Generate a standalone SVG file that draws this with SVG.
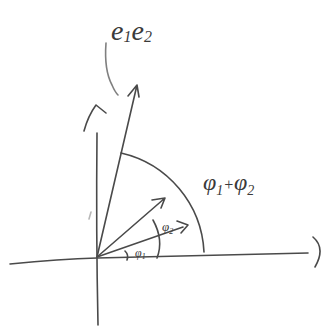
<svg xmlns="http://www.w3.org/2000/svg" width="326" height="329" viewBox="0 0 326 329">
<style>
.s{fill:none;stroke:#4a4a4a;stroke-width:1.6;stroke-linecap:round;stroke-linejoin:round}
.t{font-family:"Liberation Serif",serif;font-style:italic;fill:#3a3a3a}
</style>
<rect width="326" height="329" fill="#fff"/>
<g id="axes">
<path class="s" d="M10,264 Q60,259 97,258 Q200,256 308,253"/>
<path class="s" d="M97,133 Q96,230 98,325"/>
<path class="s" d="M84,131 Q88,116 96,105 L106,113"/>
<path class="s" d="M313,237 Q326,248 315,267"/>
<path class="s" d="M91,212 L89,219" stroke-opacity="0.4"/>
</g>
<g id="connectors">
<path class="s" d="M97,257 L137,85 M128,96 L137,85 L139,97"/>
<path class="s" d="M97,257 L165,198 M152,200 L165,198 L161,208"/>
<path class="s" d="M97,257 L183,227 M177,221 L188,225 L181,233"/>
<path class="s" d="M106,43 Q104,70 112,85 Q115,92 118,95" stroke-opacity="0.7"/>
<path class="s" d="M121,153 A107,107 0 0 1 204,252"/>
<path class="s" d="M153,220 Q164,240 157,258"/>
<path class="s" d="M125,251 Q129,255 127,260"/>
</g>
<g id="labels">
<text class="t" x="111" y="40" font-size="28">e<tspan font-size="16" dy="2">1</tspan><tspan dy="-2">e</tspan><tspan font-size="16" dy="2">2</tspan></text>
<text class="t" x="203" y="190" font-size="24">φ<tspan font-size="14" dy="5">1</tspan><tspan dy="-5" font-size="16">+</tspan>φ<tspan font-size="14" dy="5">2</tspan></text>
<text class="t" x="162" y="231" font-size="13">φ<tspan font-size="8" dy="3">2</tspan></text>
<text class="t" x="135" y="257" font-size="12">φ<tspan font-size="8" dy="2">1</tspan></text>
</g>
</svg>
